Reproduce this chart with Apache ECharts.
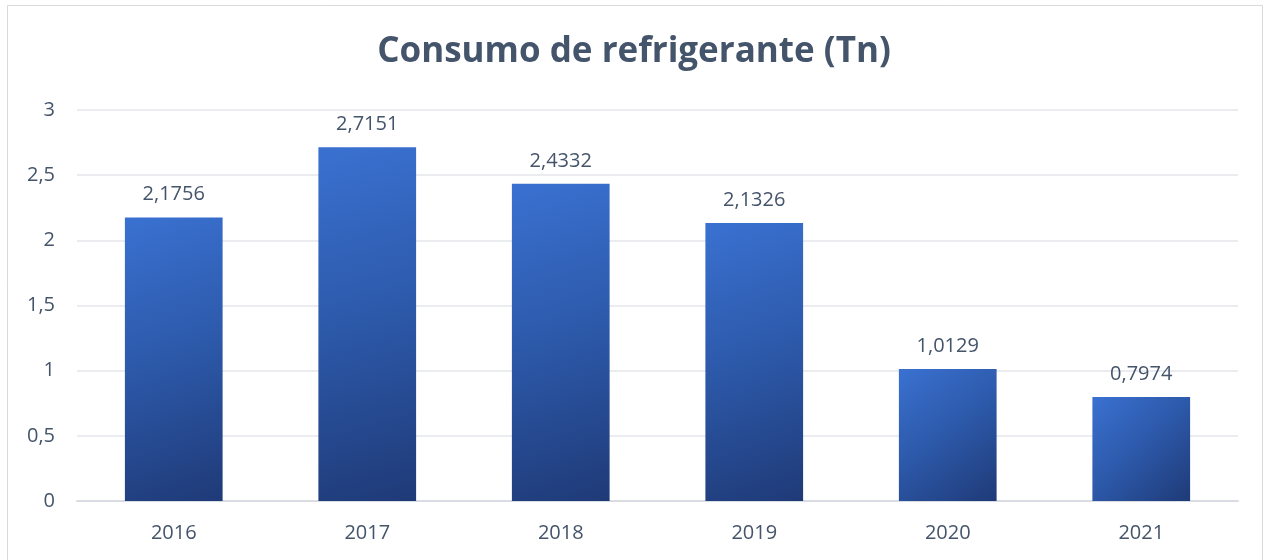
<!DOCTYPE html>
<html><head><meta charset="utf-8">
<script src="https://cdn.jsdelivr.net/npm/echarts@6/dist/echarts.min.js"></script>
<style>html,body{margin:0;padding:0;background:#fff}#c{width:1268px;height:560px}</style>
</head><body><div id="c"></div>
<script>
const categories = ['2016','2017','2018','2019','2020','2021'];
const values = [2.1756, 2.7151, 2.4332, 2.1326, 1.0129, 0.7974];
const yTicks = { min: 0, max: 3, interval: 0.5 };
const fmt = v => String(v).replace('.', ',');
const chart = echarts.init(document.getElementById('c'));
chart.setOption({
  animation: false,
  backgroundColor: '#fff',
  graphic: [{type:'rect', shape:{x:7.5,y:5.5,width:1255,height:560}, style:{fill:'none', stroke:'#D9D9D9', lineWidth:1}}],
  title: { text: 'Consumo de refrigerante (Tn)', left: 'center', top: 30,
    textStyle: { fontFamily: 'Open Sans', fontWeight: 'bold', fontSize: 35, color: '#44546A' } },
  grid: { left: 77, right: 30, top: 110, bottom: 59, containLabel: false },
  xAxis: { type: 'category', data: categories,
    axisLine: { lineStyle: { color: '#D9DDE3', width: 2 } }, axisTick: { show: false },
    axisLabel: { color: '#44546A', fontSize: 20, fontFamily: 'Open Sans', margin: 22 } },
  yAxis: { type: 'value', min: yTicks.min, max: yTicks.max, interval: yTicks.interval,
    axisLine: { show: false }, axisTick: { show: false },
    splitLine: { lineStyle: { color: '#E3E6EB', width: 1.5 } },
    axisLabel: { color: '#44546A', fontSize: 20, fontFamily: 'Open Sans', margin: 22, formatter: fmt } },
  series: [{ type: 'bar', data: values, barWidth: '50.5%',
    itemStyle: { color: new echarts.graphic.LinearGradient(0,0,1,1,[
      {offset:0, color:'#3A71D1'},{offset:0.5,color:'#2C58A8'},{offset:1,color:'#1F3A77'}]) },
    label: { show: true, position: 'top', distance: 13, color: '#44546A', fontSize: 20, fontFamily: 'Open Sans', formatter: p => fmt(p.value) } }]
});
</script></body></html>
